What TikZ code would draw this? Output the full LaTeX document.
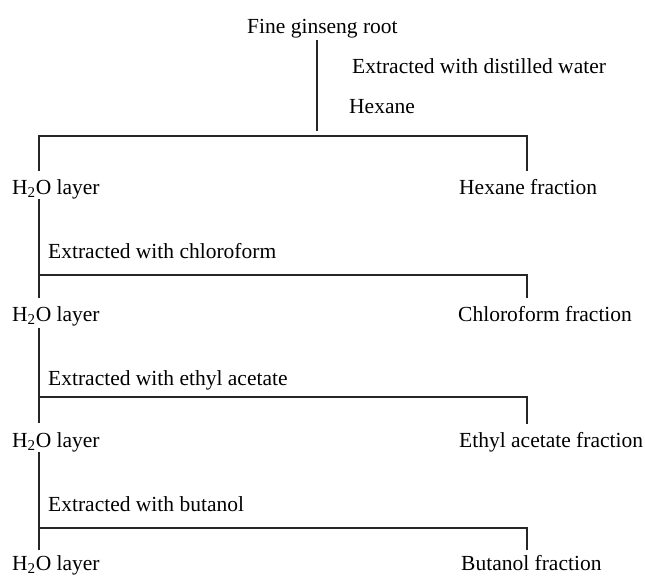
\documentclass[tikz,border=0pt]{standalone}
\usepackage{fontspec}
\setmainfont{Liberation Serif}

\tikzset{
  lbl/.style={anchor=base west, inner sep=0pt, font=\fontsize{21.5}{25}\selectfont},
  link/.style={line width=1.1pt, draw=black!85}
}

\begin{document}
\begin{tikzpicture}[x=1pt,y=-1pt]
\useasboundingbox (0,0) rectangle (645,576);

% starting material
\node[lbl] (root) at (247,33) {Fine ginseng root};
\node[lbl] (water) at (352,73) {Extracted with distilled water};
\node[lbl] (hexane) at (349,113) {Hexane};

% layers and fractions
\node[lbl] (h2oA) at (12,194) {H\textsubscript{2}O layer};
\node[lbl] (hexfrac) at (459,194) {Hexane fraction};
\node[lbl] (chlor) at (48,258) {Extracted with chloroform};
\node[lbl] (h2oB) at (12,321) {H\textsubscript{2}O layer};
\node[lbl] (chlfrac) at (458,321) {Chloroform fraction};
\node[lbl] (ethyl) at (48,385) {Extracted with ethyl acetate};
\node[lbl] (h2oC) at (12,447) {H\textsubscript{2}O layer};
\node[lbl] (ethfrac) at (459,447) {Ethyl acetate fraction};
\node[lbl] (butan) at (48,511) {Extracted with butanol};
\node[lbl] (h2oD) at (12,570) {H\textsubscript{2}O layer};
\node[lbl] (butfrac) at (461,570) {Butanol fraction};

% split points
\coordinate (split) at (317,136);
\coordinate (leftA) at (39,136);  \coordinate (rightA) at (527,136);
\coordinate (leftB) at (39,275);  \coordinate (rightB) at (527,275);
\coordinate (leftC) at (39,397);  \coordinate (rightC) at (527,397);
\coordinate (leftD) at (39,528);  \coordinate (rightD) at (527,528);

% connectors
\draw[link, shorten <=2pt, shorten >=5pt] (root.south -| split) -- (split);
\draw[link, shorten <=8pt, shorten >=8pt] (h2oA.north -| leftA) -- (leftA) -- (rightA) -- (hexfrac.north -| rightA);

\draw[link, shorten >=8pt] (h2oA.south -| leftB) -- (h2oB.north -| leftB);
\draw[link, shorten >=8pt] (leftB) -- (rightB) -- (chlfrac.north -| rightB);

\draw[link, shorten <=2pt, shorten >=9pt] (h2oB.south -| leftC) -- (h2oC.north -| leftC);
\draw[link, shorten >=8pt] (leftC) -- (rightC) -- (ethfrac.north -| rightC);

\draw[link, shorten >=5pt] (h2oC.south -| leftD) -- (h2oD.north -| leftD);
\draw[link, shorten >=5pt] (leftD) -- (rightD) -- (butfrac.north -| rightD);
\end{tikzpicture}
\end{document}
